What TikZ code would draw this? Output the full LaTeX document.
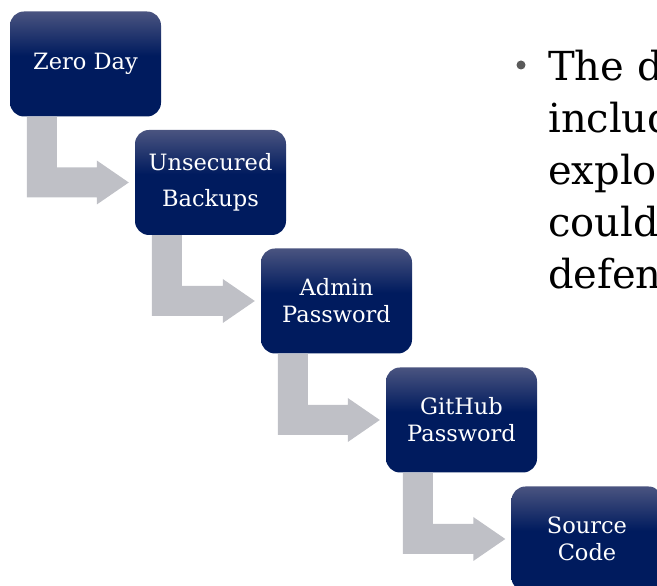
\documentclass[tikz,border=0pt]{standalone}
\usepackage{fontspec}
\setmainfont{DejaVu Serif}
\usetikzlibrary{calc}

\definecolor{navyTop}{HTML}{4A5480}
\definecolor{navyDeep}{HTML}{001B5E}
\definecolor{flowgray}{HTML}{BFC0C6}
\definecolor{bulletgray}{HTML}{5A5A5A}

% vertical shading: bottom of the box sits at 25bp, top at 75bp
\pgfdeclareverticalshading{navybox}{100bp}{%
  color(0bp)=(navyDeep); color(25bp)=(navyDeep); color(54bp)=(navyDeep);
  color(75bp)=(navyTop); color(100bp)=(navyTop)}

\tikzset{
  stepbox/.style={rectangle, rounded corners=14pt, shading=navybox,
    minimum width=151pt, minimum height=105pt, inner sep=0pt,
    text=white, align=center, font=\fontsize{22.5}{36}\selectfont},
  tightlines/.style={font=\fontsize{22.5}{27}\selectfont},
  flowarrow/.style={fill=flowgray, draw=none},
}

% bent block arrow from the bottom of box #1 to the left side of box #2
\newcommand\bentarrow[2]{%
  \fill[flowarrow] let \p1=(#1.south west), \p2=(#2.west) in
    (\x1+17,\y1) -- (\x1+47,\y1) -- (\x1+47,\y2+15) -- (\x2-38,\y2+15)
    -- (\x2-38,\y2+22) -- (\x2-6,\y2) -- (\x2-38,\y2-22) -- (\x2-38,\y2-15)
    -- (\x1+17,\y2-15) -- cycle;}

\begin{document}
\begin{tikzpicture}[x=1pt, y=1pt]
  \useasboundingbox (0,0) rectangle (657,586);
  \clip (0,0) rectangle (657,586);

  % chain of boxes (pixel rows counted from the top: y = 586 - row)
  \node[stepbox] (zero)   at (85.5, 522) {Zero Day};
  \node[stepbox] (backup) at (210.5, 403.5) {Unsecured\\Backups};
  \node[stepbox, tightlines] (admin)  at (336.5, 285) {Admin\\Password};
  \node[stepbox, tightlines] (github) at (461.5, 166) {GitHub\\Password};
  \node[stepbox, tightlines] (source) at (587, 47) {Source\\Code};

  \bentarrow{zero}{backup}
  \bentarrow{backup}{admin}
  \bentarrow{admin}{github}
  \bentarrow{github}{source}

  % bullet text on the right (base anchor = baseline of the last line)
  \fill[bulletgray] (521,521) circle (4.5) coordinate (dot);
  \node[anchor=base west, inner sep=0pt, align=left,
        font=\fontsize{40}{52}\selectfont] (bullet) at (548,297)
    {The d\\includ\\explor\\could\\defen};
\end{tikzpicture}
\end{document}
